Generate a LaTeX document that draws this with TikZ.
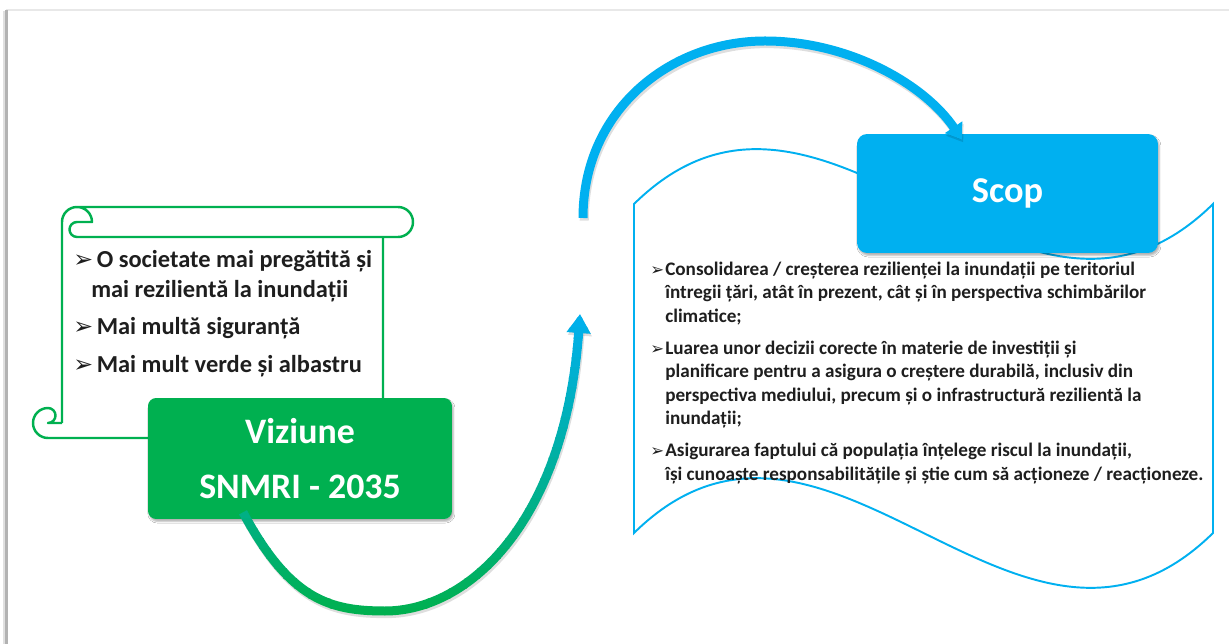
\documentclass[tikz,border=0pt]{standalone}
\usepackage{fontspec}
\setmainfont{Carlito}
\newfontfamily\symfont{DejaVu Sans}
\usetikzlibrary{arrows.meta,calc,shadows.blur}
\definecolor{vgreen}{HTML}{00B050}
\definecolor{sblue}{HTML}{00B0F0}
\definecolor{txt}{HTML}{1E1E1E}
\newcommand\lbul{\makebox[10.2pt][l]{\symfont\fontsize{13.5pt}{13.5pt}\selectfont ➢}}
\newcommand\rbul{\makebox[8.5pt][l]{\symfont\fontsize{9.4pt}{9.4pt}\selectfont ➢}}
\tikzset{
  boxshadow/.style={blur shadow={shadow xshift=0.8pt,shadow yshift=-1.4pt,shadow blur radius=0.9pt,shadow opacity=30}},
  vizbox/.style={fill=vgreen, rounded corners=0.16cm, minimum width=6.08cm, minimum height=2.42cm,
    text=white, font=\fontsize{20.4pt}{31.7pt}\selectfont\bfseries, align=center, inner sep=0pt, boxshadow},
  scopbox/.style={fill=sblue, rounded corners=0.2cm, minimum width=6.02cm, minimum height=2.38cm,
    text=white, font=\fontsize{20.7pt}{24pt}\selectfont\bfseries, inner sep=0pt, boxshadow},
  scrollline/.style={draw=vgreen, line width=1.4pt, line join=round},
  waveline/.style={draw=sblue, line width=1.1pt},
  lefttext/.style={text=txt, font=\fontsize{13.9pt}{17pt}\selectfont\bfseries, align=left, inner sep=0pt},
  righttext/.style={text=txt, font=\fontsize{10.9pt}{13.3pt}\selectfont\bfseries, align=left, inner sep=0pt},
  bluearc/.style={draw=sblue, line width=0.18cm, -{Triangle[length=0.3cm,width=0.4cm]}},
  greenarc/.style={line width=0.18cm, -{Triangle[length=0.38cm,width=0.46cm]}},
  arcshadow/.style={draw=black, opacity=0.13, line width=0.18cm, transform canvas={shift={(0.7pt,-1.5pt)}}},
}
\begin{document}
\begin{tikzpicture}[x=0.02cm,y=-0.02cm]
\useasboundingbox (0,0) rectangle (1229,644);
\fill[white] (0,0) rectangle (1229,644);
% page frame
\draw[black!9, line width=1.2pt] (6,10) -- (1229,10);
\draw[black!12, line width=1.4pt] (4,11) -- (4,644);
\draw[black!30, line width=1.2pt] (6.5,10) -- (6.5,644);

% wave document
\draw[waveline, fill=white] (634,204) .. controls (827,14) and (1020,394) .. (1213,204)
  -- (1213,533) .. controls (1020,723) and (827,343) .. (634,533) -- cycle;

% scop box
\node[scopbox] (scop) at (1007.5,193.5) {Scop};

% blue arc
\coordinate (bstart) at (583,218);
\coordinate (bend) at ($(scop.north)+(-45.5,6)$);
\draw[arcshadow, -{Triangle[length=0.3cm,width=0.4cm]}] (bstart) .. controls (583,110) and (670,41) .. (765,41) .. controls (850,41) and (925,85) .. (bend);
\draw[bluearc] (bstart) .. controls (583,110) and (670,41) .. (765,41) .. controls (850,41) and (925,85) .. (bend);

% scroll
\draw[scrollline] (62,423) -- (62,222) arc[start angle=180, end angle=270, radius=15]
  -- (398,207) arc[start angle=270, end angle=450, radius=15]
  -- (77,237) arc[start angle=90, end angle=270, radius=7.5]
  -- (92,222) arc[start angle=0, end angle=-90, radius=15];
\draw[scrollline] (62,423) -- (48,423) arc[start angle=90, end angle=-90, radius=7.5]
  arc[start angle=270, end angle=90, radius=15] -- (383,438) -- (383,237);

% texts
\node[lefttext, anchor=north west] (vtext) at (73,243) {\rule{0pt}{13.9pt}\lbul\ O societate mai pregătită și\\
\hspace*{10.2pt}mai rezilientă la inundații\\[4pt]
\lbul\ Mai multă siguranță\\[4.5pt]
\lbul\ Mai mult verde și albastru};

\node[righttext, anchor=north west] (stext) at (650,256) {\rule{0pt}{10.9pt}\rbul Consolidarea / creșterea rezilienței la inundații pe teritoriul\\
\hspace*{8.5pt}întregii țări, atât în prezent, cât și în perspectiva schimbărilor\\
\hspace*{8.5pt}climatice;\\[5pt]
\rbul Luarea unor decizii corecte în materie de investiții și\\
\hspace*{8.5pt}planificare pentru a asigura o creștere durabilă, inclusiv din\\
\hspace*{8.5pt}perspectiva mediului, precum și o infrastructură rezilientă la\\
\hspace*{8.5pt}inundații;\\[5pt]
\rbul Asigurarea faptului că populația înțelege riscul la inundații,\\
\hspace*{8.5pt}își cunoaște responsabilitățile și știe cum să acționeze / reacționeze.};

% viziune box
\node[vizbox] (viz) at (300,458.5) {Viziune\\SNMRI - 2035};

% green-to-blue arc
\coordinate (gstart) at ($(viz.south)+(-57,-7)$);
\coordinate (gend) at (580,314);
\draw[arcshadow, -{Triangle[length=0.38cm,width=0.46cm]}] (gstart) .. controls (290,600) and (330,611) .. (385,611) .. controls (470,611) and (565,520) .. (gend);
\foreach \k in {0,...,33}{
  \pgfmathsetmacro\yb{298+10*\k}
  \pgfmathsetmacro\pb{max(0,min(100,(611-\yb-5)/297*100))}
  \colorlet{bandc}{sblue!\pb!vgreen}
  \begin{scope}
    \clip (0,\yb) rectangle (1229,\yb+10.8);
    \draw[greenarc, draw=bandc] (gstart) .. controls (290,600) and (330,611) .. (385,611) .. controls (470,611) and (565,520) .. (gend);
  \end{scope}
}
\end{tikzpicture}
\end{document}
